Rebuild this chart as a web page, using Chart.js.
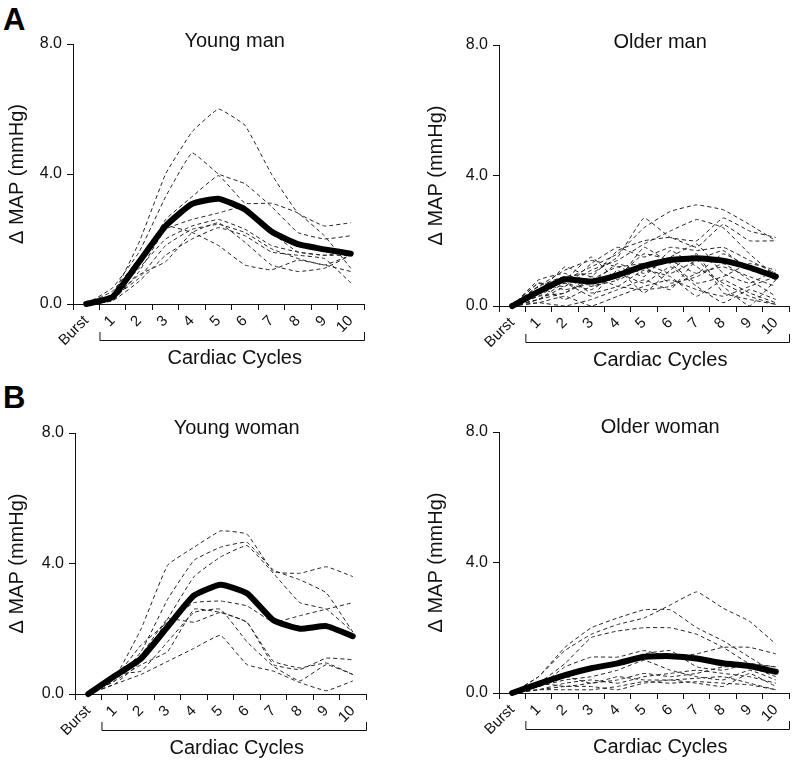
<!DOCTYPE html>
<html>
<head>
<meta charset="utf-8">
<script src="https://cdn.jsdelivr.net/npm/chart.js@4.4.1/dist/chart.umd.min.js"></script>
<style>
  body { margin: 0; background: #fff; }
  #wrap { position: relative; width: 792px; height: 761px; overflow: hidden; font-family: "Liberation Sans", Arial, sans-serif; }
  .panel { position: absolute; }
  .letter { position: absolute; font-weight: bold; font-size: 31px; color: #000; line-height: 1; }
</style>
</head>
<body>
<div id="wrap">
  <div class="letter" style="left:3px; top:4px;">A</div>
  <div class="letter" style="left:3px; top:382px;">B</div>
  <div class="panel" style="left:0px; top:0px; width:396px; height:380px;"><canvas id="youngMan"></canvas></div>
  <div class="panel" style="left:419px; top:0px; width:373px; height:380px;"><canvas id="olderMan"></canvas></div>
  <div class="panel" style="left:0px; top:380px; width:396px; height:381px;"><canvas id="youngWoman"></canvas></div>
  <div class="panel" style="left:419px; top:380px; width:373px; height:381px;"><canvas id="olderWoman"></canvas></div>
</div>
<script>
const cycleLabels = ["Burst", "1", "2", "3", "4", "5", "6", "7", "8", "9", "10"];
const yTicks = [0, 4, 8];

const youngManMean = [0, 0.22, 1.3, 2.4, 3.08, 3.24, 2.91, 2.23, 1.84, 1.68, 1.55];
const youngManSubjects = [
  [0, 0.3, 1.9, 4.0, 5.3, 6.0, 5.5, 4.0, 2.8, 2.4, 2.5],
  [0, 0.5, 1.6, 3.3, 4.65, 4.0, 3.7, 3.0, 2.2, 2.0, 2.1],
  [0, 0.2, 1.2, 2.6, 3.3, 3.95, 3.1, 3.1, 2.8, 2.1, 1.1],
  [0, 0.1, 1.0, 2.3, 2.6, 2.8, 3.0, 2.2, 1.6, 1.5, 1.5],
  [0, 0.3, 1.1, 2.0, 2.4, 2.6, 2.3, 1.8, 1.6, 1.5, 1.6],
  [0, 0.2, 0.8, 1.8, 2.3, 2.45, 2.2, 1.7, 1.4, 1.2, 1.5],
  [0, 0.1, 0.7, 1.5, 2.0, 2.35, 2.1, 1.6, 1.5, 1.4, 0.65],
  [0, 0.4, 1.4, 2.4, 2.2, 1.8, 1.2, 1.05, 1.35, 1.2, 1.0],
  [0, 0.2, 0.9, 1.3, 2.2, 2.5, 1.9, 1.2, 1.0, 1.1, 1.5]
];

const olderManMean = [0, 0.44, 0.82, 0.75, 0.95, 1.23, 1.41, 1.46, 1.39, 1.18, 0.9];
const olderManSubjects = [
  [0, 0.3, 0.8, 1.2, 1.6, 2.4, 2.9, 3.1, 2.95, 2.5, 2.0],
  [0, 0.5, 0.9, 1.0, 1.5, 2.7, 2.1, 2.0, 2.7, 2.3, 2.1],
  [0, 0.2, 0.6, 1.1, 1.4, 1.9, 2.3, 2.65, 2.4, 1.6, 0.9],
  [0, 0.4, 1.2, 0.9, 1.7, 2.0, 2.1, 1.8, 2.5, 2.0, 2.0],
  [0, 0.7, 0.6, 1.3, 1.8, 1.5, 1.8, 1.7, 1.8, 1.4, 1.0],
  [0, 0.8, 1.0, 0.6, 0.9, 1.6, 1.4, 1.0, 1.6, 1.2, 0.8],
  [0, 0.2, 0.4, 0.8, 1.2, 0.9, 1.7, 1.2, 0.7, 0.3, 0.05],
  [0, 0.6, 0.9, 0.4, 0.6, 1.1, 0.9, 0.3, 0.8, 0.4, 0.1],
  [0, 0.1, 0.0, 0.2, 0.5, 0.8, 0.5, 1.4, 0.6, 0.0, 0.8],
  [0, 0.5, 0.7, 0.5, 1.0, 0.7, 1.2, 0.6, 0.1, 0.5, 0.2],
  [0, 0.3, 0.4, 0.9, 0.6, 0.5, 0.6, 1.0, 1.2, 0.9, 0.6],
  [0, 0.6, 1.1, 1.4, 1.2, 1.3, 1.0, 1.4, 1.7, 1.1, 1.0],
  [0, 0.1, 0.3, 0.0, 0.3, 0.6, 0.8, 0.5, 0.3, 0.6, 0.9],
  [0, 0.7, 0.5, 0.7, 1.3, 1.0, 1.5, 1.9, 1.0, 0.7, 1.1],
  [0, 0.4, 0.8, 1.5, 0.8, 1.2, 0.7, 0.9, 1.3, 0.8, 0.3],
  [0, 0.2, 0.7, 0.3, 1.1, 0.4, 1.1, 1.6, 0.4, 0.2, 0.05],
  [0, 0.6, 0.2, 0.6, 0.8, 1.8, 1.3, 0.7, 0.9, 1.3, 1.1]
];

const youngWomanMean = [0, 0.55, 1.09, 2.06, 3.02, 3.35, 3.09, 2.26, 2.0, 2.08, 1.77];
const youngWomanSubjects = [
  [0, 0.5, 2.0, 3.95, 4.5, 5.0, 4.9, 3.75, 3.7, 3.9, 3.6],
  [0, 0.4, 1.3, 2.9, 4.1, 4.5, 4.65, 3.8, 3.5, 3.1, 1.9],
  [0, 0.3, 1.0, 2.3, 3.6, 4.2, 4.55, 3.7, 2.8, 2.6, 1.9],
  [0, 0.5, 1.5, 2.2, 2.8, 2.85, 2.7, 2.2, 2.4, 2.6, 2.8],
  [0, 0.4, 0.9, 1.3, 2.6, 2.5, 2.2, 0.9, 0.75, 1.1, 1.05],
  [0, 0.6, 0.7, 1.6, 2.5, 2.6, 1.6, 0.85, 0.4, 0.9, 0.6],
  [0, 0.3, 0.6, 1.0, 1.4, 1.8, 0.9, 0.7, 0.35, 0.1, 0.4],
  [0, 0.5, 1.2, 2.3, 2.2, 2.5, 2.2, 1.0, 0.8, 0.95, 0.6]
];

const olderWomanMean = [0, 0.28, 0.55, 0.76, 0.91, 1.11, 1.13, 1.06, 0.91, 0.83, 0.65];
const olderWomanSubjects = [
  [0, 0.5, 1.3, 1.8, 2.1, 2.3, 2.7, 3.1, 2.6, 2.2, 1.5],
  [0, 0.5, 1.4, 2.0, 2.3, 2.55, 2.55, 2.0, 1.6, 1.1, 0.6],
  [0, 0.3, 0.9, 1.7, 1.9, 2.0, 2.0, 1.8, 1.4, 0.9, 0.8],
  [0, 0.2, 0.8, 1.1, 1.1, 1.3, 1.1, 1.2, 1.4, 1.4, 1.2],
  [0, 0.3, 0.6, 0.8, 0.9, 1.2, 1.3, 0.8, 0.7, 0.9, 0.8],
  [0, 0.2, 0.4, 0.5, 0.7, 1.0, 0.7, 0.5, 0.4, 0.7, 0.4],
  [0, 0.1, 0.3, 0.4, 0.3, 0.5, 0.6, 0.7, 0.6, 0.5, 0.3],
  [0, 0.2, 0.5, 0.3, 0.5, 0.4, 0.4, 0.45, 0.5, 0.3, 0.1],
  [0, 0.1, 0.2, 0.2, 0.1, 0.3, 0.4, 0.3, 0.2, 0.6, 0.2],
  [0, 0.3, 0.2, 0.3, 0.4, 0.6, 0.5, 0.6, 0.8, 0.8, 0.5],
  [0, 0.1, 0.1, 0.1, 0.2, 0.35, 0.3, 0.35, 0.3, 0.25, 0.1]
];

const FONT = '"Liberation Sans", Arial, sans-serif';
const AXIS_COLOR = "#111";
const TEXT_COLOR = "#111";

// draws panel title, the bracket under cycles 1-10 and its caption
const panelDecor = {
  id: "panelDecor",
  afterDraw(chart, args, opts) {
    const { ctx, chartArea } = chart;
    const x = chart.scales.x;
    const left = (x.getPixelForValue(0) + x.getPixelForValue(1)) / 2;
    const right = chartArea.right;
    const by = chartArea.bottom + 36;
    const mid = (left + right) / 2 + 3;

    ctx.save();
    ctx.strokeStyle = AXIS_COLOR;
    ctx.lineWidth = 1;
    ctx.beginPath();
    ctx.moveTo(left + 0.5, by - 8);
    ctx.lineTo(left + 0.5, by + 0.5);
    ctx.lineTo(right + 0.5, by + 0.5);
    ctx.lineTo(right + 0.5, by - 8);
    ctx.stroke();

    ctx.fillStyle = TEXT_COLOR;
    ctx.textAlign = "center";
    ctx.textBaseline = "middle";
    ctx.font = `20px ${FONT}`;
    ctx.fillText("Cardiac Cycles", mid, chartArea.bottom + 54);
    ctx.fillText(opts.title, mid, chartArea.top - opts.titleOffset);
    ctx.restore();
  }
};

function makePanel(canvasId, title, mean, subjects, layout) {
  const datasets = [
    {
      data: mean,
      borderColor: "#000",
      borderWidth: 6,
      borderJoinStyle: "round",
      borderCapStyle: "round",
      pointRadius: 0,
      tension: 0.15,
      clip: false,
    },
    ...subjects.map((s) => ({
      data: s,
      borderColor: "#222",
      borderWidth: 1,
      borderDash: [4, 3],
      pointRadius: 0,
      tension: 0.1,
      clip: false,
    })),
  ];

  return new Chart(document.getElementById(canvasId), {
    type: "line",
    data: { labels: cycleLabels, datasets },
    plugins: [panelDecor],
    options: {
      responsive: true,
      maintainAspectRatio: false,
      animation: false,
      events: [],
      layout: {
        padding: { top: layout.padTop, right: layout.padRight, left: 0, bottom: 0 },
      },
      plugins: {
        legend: { display: false },
        tooltip: { enabled: false },
        panelDecor: { title, titleOffset: layout.titleOffset },
      },
      scales: {
        x: {
          type: "category",
          offset: true,
          afterFit: (scale) => { scale.height = layout.xHeight; },
          grid: {
            offset: true,
            drawOnChartArea: false,
            tickLength: 6,
            color: AXIS_COLOR,
          },
          border: { color: AXIS_COLOR, width: 1 },
          ticks: {
            autoSkip: false,
            minRotation: 45,
            maxRotation: 45,
            padding: 2,
            color: TEXT_COLOR,
            font: { family: FONT, size: 15 },
          },
        },
        y: {
          min: 0,
          max: 8,
          afterFit: (scale) => { scale.width = layout.yWidth; },
          afterBuildTicks: (scale) => {
            scale.ticks = yTicks.map((v) => ({ value: v }));
          },
          grid: {
            drawOnChartArea: false,
            tickLength: 6,
            color: AXIS_COLOR,
          },
          border: { color: AXIS_COLOR, width: 1 },
          ticks: {
            padding: 5,
            color: TEXT_COLOR,
            font: { family: FONT, size: 16 },
            callback: (v) => Number(v).toFixed(1),
          },
          title: {
            display: true,
            text: "\u0394 MAP (mmHg)",
            color: TEXT_COLOR,
            font: { family: FONT, size: 20 },
            padding: { top: 5, bottom: 0 },
          },
        },
      },
    },
  });
}

makePanel("youngMan", "Young man", youngManMean, youngManSubjects,
  { padTop: 44, padRight: 32, xHeight: 76, yWidth: 73, titleOffset: 3 });
makePanel("olderMan", "Older man", olderManMean, olderManSubjects,
  { padTop: 45, padRight: 3, xHeight: 74, yWidth: 80, titleOffset: 3 });
makePanel("youngWoman", "Young woman", youngWomanMean, youngWomanSubjects,
  { padTop: 53, padRight: 30, xHeight: 67, yWidth: 75, titleOffset: 5 });
makePanel("olderWoman", "Older woman", olderWomanMean, olderWomanSubjects,
  { padTop: 52, padRight: 3, xHeight: 68, yWidth: 80, titleOffset: 5 });
</script>
</body>
</html>
